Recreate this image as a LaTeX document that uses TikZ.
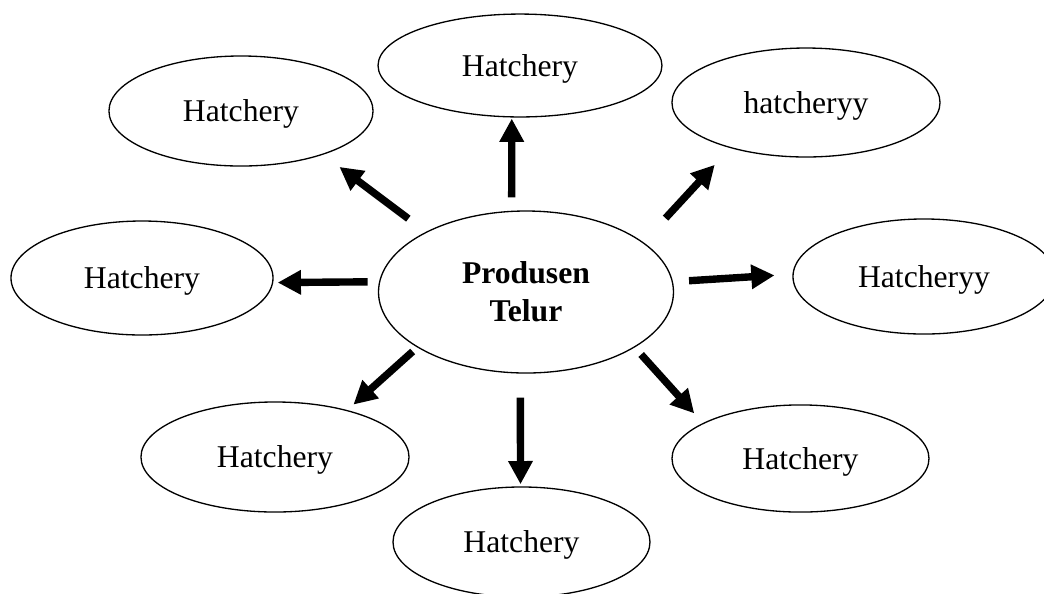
\documentclass[tikz,border=0pt]{standalone}
\usepackage{fontspec}
\setmainfont{Liberation Serif}
\usepackage{tikz}
\usetikzlibrary{arrows.meta,shapes.geometric}

\tikzset{
  hatch/.style={ellipse,draw,line width=0.5pt,inner sep=0pt,text depth=0pt,font=\fontsize{12}{14.4}\selectfont},
  arr/.style={-{Triangle[length=8.8pt,width=8.8pt]},line width=2.8pt}
}

\begin{document}
\begin{tikzpicture}[x=0.379pt,y=-0.379pt]
  \useasboundingbox (0,0) rectangle (1044,593);
  % centre
  \node[ellipse,draw,line width=0.5pt,inner sep=0pt,minimum width=111.8pt,minimum height=61.4pt,align=center,font=\fontsize{12}{14.4}\selectfont\bfseries] (p) at (526,292) {Produsen\\Telur};
  % satellites
  \node[hatch,minimum width=107.6pt,minimum height=39.0pt] (h0) at (520,65.5) {Hatchery};
  \node[hatch,minimum width=101.6pt,minimum height=41.3pt] (h1) at (806,102.5) {hatcheryy};
  \node[hatch,minimum width=99.3pt,minimum height=43.6pt] (h2) at (924,276.5) {Hatcheryy};
  \node[hatch,minimum width=97.4pt,minimum height=40.6pt] (h3) at (800.5,458.5) {Hatchery};
  \node[hatch,minimum width=97.4pt,minimum height=41.7pt] (h4) at (521.5,542) {Hatchery};
  \node[hatch,minimum width=101.6pt,minimum height=41.7pt] (h5) at (275,457) {Hatchery};
  \node[hatch,minimum width=99.3pt,minimum height=43.2pt] (h6) at (142,278) {Hatchery};
  \node[hatch,minimum width=100.1pt,minimum height=41.7pt] (h7) at (241,111) {Hatchery};
  % arrows
  \draw[arr,shorten <=5.1pt,shorten >=0.4pt] (p.100.5) -- (h0.-99.9);
  \draw[arr,shorten <=12.4pt,shorten >=8.6pt] (p.23.4) -- (h1.-149.6);
  \draw[arr,shorten <=6.1pt,shorten >=6.8pt] (p.4.4) -- (h2.179.4);
  \draw[arr,shorten <=3.6pt,shorten >=4.9pt] (p.-27.8) -- (h3.160);
  \draw[arr,shorten <=9.1pt,shorten >=0.8pt] (p.-94.2) -- (h4.91.6);
  \draw[arr,shorten <=2.3pt,shorten >=3.1pt] (p.-153.1) -- (h5.33.3);
  \draw[arr,shorten <=4.3pt,shorten >=1.7pt] (p.176.5) -- (h6.-2.2);
  \draw[arr,shorten <=8.3pt,shorten >=7.7pt] (p.149.9) -- (h7.-28.7);
\end{tikzpicture}
\end{document}
